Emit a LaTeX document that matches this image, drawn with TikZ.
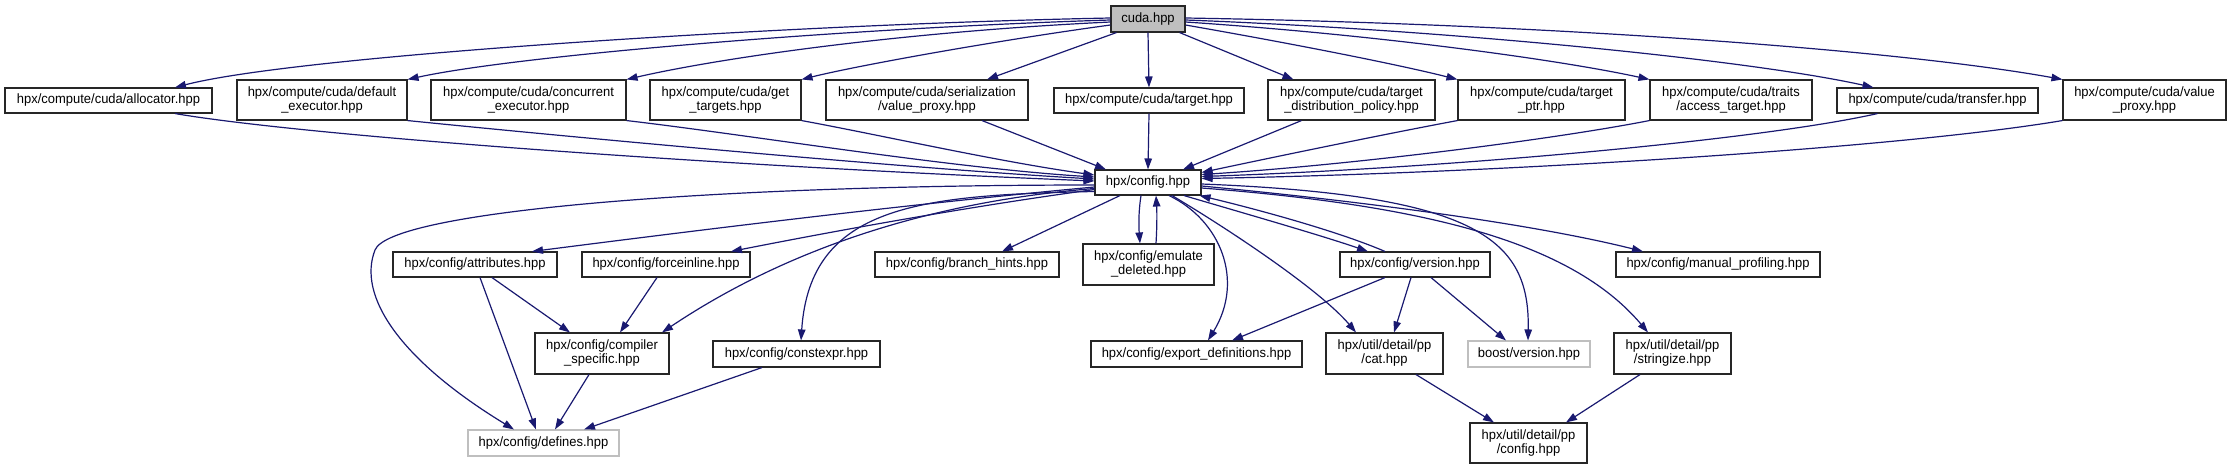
\documentclass[tikz,border=0pt]{standalone}
\usepackage{fontspec}
\newfontfamily\dox[FakeStretch=0.96]{Liberation Sans}
\usetikzlibrary{arrows.meta}
\definecolor{edgec}{HTML}{191970}
\begin{document}
\begin{tikzpicture}[x=1pt,y=-1pt,
  box/.style={draw=black!85, line width=1.1pt, fill=white, inner sep=0pt, align=center, font=\dox\fontsize{13.5}{14}\selectfont},
  one/.style={box, minimum height=25pt},
  two/.style={box, minimum height=40pt},
  ext/.style={one, draw=black!25},
  e/.style={draw=edgec, line width=1.2pt, -{Triangle[length=11pt,width=7.5pt]}}]

\useasboundingbox (0,0) rectangle (2231,469);

% nodes
\node[one, fill=black!25, minimum width=74pt, minimum height=26pt] (cuda) at (1148,19) {cuda.hpp};
\node[one, minimum width=207pt] (alloc) at (108.5,100.5) {hpx/compute/cuda/allocator.hpp};
\node[two, minimum width=170pt] (defexec) at (322,100) {hpx/compute/cuda/default\\\_executor.hpp};
\node[two, minimum width=195pt] (concur) at (528.5,100) {hpx/compute/cuda/concurrent\\\_executor.hpp};
\node[two, minimum width=151pt] (gettgt) at (725.5,100) {hpx/compute/cuda/get\\\_targets.hpp};
\node[two, minimum width=202pt] (serial) at (927,100) {hpx/compute/cuda/serialization\\/value\_proxy.hpp};
\node[one, minimum width=190pt] (target) at (1149,100.5) {hpx/compute/cuda/target.hpp};
\node[two, minimum width=167pt] (tdist) at (1351.5,100) {hpx/compute/cuda/target\\\_distribution\_policy.hpp};
\node[two, minimum width=167pt] (tptr) at (1541.5,100) {hpx/compute/cuda/target\\\_ptr.hpp};
\node[two, minimum width=162pt] (traits) at (1731,100) {hpx/compute/cuda/traits\\/access\_target.hpp};
\node[one, minimum width=201pt] (transfer) at (1937.5,100.5) {hpx/compute/cuda/transfer.hpp};
\node[two, minimum width=163pt] (vproxy) at (2144.5,100) {hpx/compute/cuda/value\\\_proxy.hpp};
\node[one, minimum width=106pt] (config) at (1148,182.5) {hpx/config.hpp};
\node[one, minimum width=164pt] (attr) at (475,264.5) {hpx/config/attributes.hpp};
\node[one, minimum width=168pt] (force) at (666,264.5) {hpx/config/forceinline.hpp};
\node[one, minimum width=184pt] (branch) at (967,264.5) {hpx/config/branch\_hints.hpp};
\node[two, minimum width=131pt, minimum height=41pt] (emul) at (1148.5,264.5) {hpx/config/emulate\\\_deleted.hpp};
\node[one, minimum width=150pt] (version) at (1415,264.5) {hpx/config/version.hpp};
\node[one, minimum width=204pt] (manual) at (1718,264.5) {hpx/config/manual\_profiling.hpp};
\node[two, minimum width=134pt, minimum height=41pt] (compiler) at (602,353.5) {hpx/config/compiler\\\_specific.hpp};
\node[one, minimum width=167pt, minimum height=26pt] (cexpr) at (796.5,354) {hpx/config/constexpr.hpp};
\node[one, minimum width=211pt, minimum height=26pt] (export) at (1196.5,354) {hpx/config/export\_definitions.hpp};
\node[two, minimum width=117pt, minimum height=41pt] (cat) at (1384.5,353.5) {hpx/util/detail/pp\\/cat.hpp};
\node[ext, minimum width=122pt, minimum height=26pt] (boost) at (1529,354) {boost/version.hpp};
\node[two, minimum width=117pt, minimum height=41pt] (stringize) at (1672.5,353.5) {hpx/util/detail/pp\\/stringize.hpp};
\node[ext, minimum width=151pt, minimum height=26pt] (defines) at (543.5,443) {hpx/config/defines.hpp};
\node[two, minimum width=117pt] (ppconfig) at (1528.5,443) {hpx/util/detail/pp\\/config.hpp};

% cuda -> row 1
\draw[e] ([yshift=1pt]cuda.west) .. controls (800,24) and (300,55) .. ([xshift=66.5pt]alloc.north);
\draw[e] ([yshift=-1pt]cuda.west) .. controls (850,28) and (520,55) .. (defexec.north east);
\draw[e] ([yshift=-3pt]cuda.west) .. controls (900,32) and (720,58) .. (concur.north east);
\draw[e] ([yshift=-6pt]cuda.west) .. controls (1000,40) and (860,65) .. (gettgt.north east);
\draw[e] ([xshift=6pt]cuda.south west) -- ([xshift=60pt]serial.north);
\draw[e] (cuda.south) -- (target.north);
\draw[e] ([xshift=-6pt]cuda.south east) -- ([xshift=-58pt]tdist.north);
\draw[e] ([yshift=-6pt]cuda.east) .. controls (1300,45) and (1400,65) .. (tptr.north west);
\draw[e] ([yshift=-3pt]cuda.east) .. controls (1380,35) and (1560,60) .. (traits.north west);
\draw[e] ([yshift=-1pt]cuda.east) .. controls (1450,30) and (1750,60) .. ([xshift=-64pt]transfer.north);
\draw[e] ([yshift=1pt]cuda.east) .. controls (1550,24) and (1900,50) .. (vproxy.north west);

% row 1 -> config
\draw[e] ([xshift=66.5pt]alloc.south) .. controls (300,135) and (700,165) .. ([yshift=1.5pt]config.west);
\draw[e] (defexec.south east) .. controls (550,135) and (900,168) .. ([yshift=3.5pt]config.west);
\draw[e] (concur.south east) .. controls (750,135) and (950,168) .. ([yshift=5.5pt]config.west);
\draw[e] (gettgt.south east) .. controls (880,135) and (1000,162) .. ([yshift=7.5pt]config.west);
\draw[e] ([xshift=55pt]serial.south) -- ([xshift=-42pt]config.north);
\draw[e] (target.south) -- (config.north);
\draw[e] ([xshift=-50pt]tdist.south) -- ([xshift=35pt]config.north);
\draw[e] (tptr.south west) .. controls (1380,135) and (1260,160) .. ([yshift=10pt]config.east);
\draw[e] (traits.south west) .. controls (1550,140) and (1350,165) .. ([yshift=8pt]config.east);
\draw[e] ([xshift=-60pt]transfer.south) .. controls (1760,140) and (1450,168) .. ([yshift=6pt]config.east);
\draw[e] (vproxy.south west) .. controls (1900,148) and (1500,173) .. ([yshift=4pt]config.east);

% config -> left side
\draw[e] ([yshift=-2.5pt]config.west) .. controls (700,185) and (390,212) .. (375,250)
  .. controls (357,296) and (400,360) .. ([xshift=-29.5pt]defines.north);
\draw[e] ([yshift=-4.5pt]config.west) .. controls (900,205) and (700,230) .. ([xshift=57pt]attr.north);
\draw[e] ([yshift=-7pt]config.west) .. controls (980,205) and (850,228) .. ([xshift=65pt]force.north);
\draw[e] ([yshift=-6pt]config.west) .. controls (950,200) and (800,240) .. ([xshift=60pt]compiler.north);
\draw[e] ([yshift=-9pt]config.west) .. controls (920,195) and (810,205) .. ([xshift=4.5pt]cexpr.north);

% config -> bottom
\draw[e] ([xshift=-28pt]config.south) -- ([xshift=35pt]branch.north);
\draw[e] ([xshift=-7pt]config.south) .. controls (1138,215) and (1139,230) .. ([xshift=-8.5pt]emul.north);
\draw[e] ([xshift=7.5pt]emul.north) .. controls (1157,228) and (1157,212) .. ([xshift=8pt]config.south);
\draw[e] ([xshift=21pt]config.south) .. controls (1220,220) and (1245,280) .. ([xshift=11.5pt]export.north);
\draw[e] ([xshift=24pt]config.south) .. controls (1230,230) and (1320,290) .. ([xshift=-28.5pt]cat.north);
\draw[e] ([xshift=36pt]config.south) .. controls (1250,215) and (1320,235) .. ([xshift=-47pt]version.north);
\draw[e] ([xshift=-30pt]version.north) .. controls (1340,232) and (1260,210) .. ([xshift=-2pt]config.south east);

% config -> right side
\draw[e] ([yshift=-1.5pt]config.east) .. controls (1480,195) and (1530,240) .. ([xshift=-1pt]boost.north);
\draw[e] ([yshift=-3.5pt]config.east) .. controls (1400,205) and (1550,228) .. ([xshift=-75pt]manual.north);
\draw[e] ([yshift=-5.5pt]config.east) .. controls (1420,205) and (1570,240) .. ([xshift=-24.5pt]stringize.north);

% lower edges
\draw[e] ([xshift=17pt]attr.south) -- ([xshift=-32pt]compiler.north);
\draw[e] ([xshift=5pt]attr.south) -- ([xshift=-7.5pt]defines.north);
\draw[e] ([xshift=-9pt]force.south) -- ([xshift=18pt]compiler.north);
\draw[e] ([xshift=-13pt]compiler.south) -- ([xshift=11.5pt]defines.north);
\draw[e] ([xshift=-34.5pt]cexpr.south) -- ([xshift=40.5pt]defines.north);
\draw[e] ([xshift=-30pt]version.south) -- ([xshift=35.5pt]export.north);
\draw[e] ([xshift=-4pt]version.south) -- ([xshift=9.5pt]cat.north);
\draw[e] ([xshift=16pt]version.south) -- ([xshift=-23pt]boost.north);
\draw[e] ([xshift=31.5pt]cat.south) -- ([xshift=-34.5pt]ppconfig.north);
\draw[e] ([xshift=-32.5pt]stringize.south) -- ([xshift=37.5pt]ppconfig.north);
\end{tikzpicture}
\end{document}
